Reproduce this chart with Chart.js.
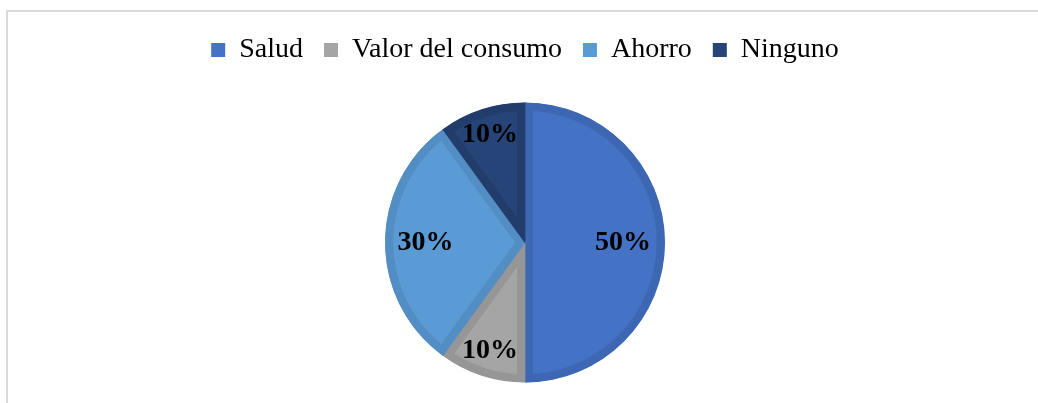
<!DOCTYPE html>
<html lang="es">
<head>
  <meta charset="UTF-8">
  <title>pie_motivo</title>
  <style>
    html, body {
      margin: 0;
      padding: 0;
      background: #ffffff;
      overflow: hidden;
    }

    .chart-box {
      position: absolute;
      left: 6px;
      top: 10px;
      width: 1034px;
      height: 403px;
      border-left: 2px solid #d9d9d9;
      border-top: 2px solid #d9d9d9;
    }
  </style>
  <script src="https://cdn.jsdelivr.net/npm/chart.js"></script>
</head>
<body>
  <div class="chart-box">
    <canvas id="myChart" width="1034" height="403"></canvas>
  </div>
  <script>
    // datos
    const categories = ['Salud', 'Valor del consumo', 'Ahorro', 'Ninguno'];
    const values = [50, 10, 30, 10];
    const fillColors = ['#4472C4', '#A5A5A5', '#5B9BD5', '#264478'];
    const edgeColors = ['#3E67B3', '#969696', '#528DC3', '#223D6C'];

    // etiquetas de porcentaje dentro de cada sector
    const pctLabels = {
      id: 'pctLabels',
      afterDatasetsDraw(chart, args, opts) {
        const ctx = chart.ctx;
        const meta = chart.getDatasetMeta(0);
        const total = values.reduce((a, b) => a + b, 0);
        ctx.save();
        ctx.font = 'bold 28px "Liberation Serif", "Times New Roman", serif';
        ctx.fillStyle = '#000000';
        ctx.textAlign = 'center';
        ctx.textBaseline = 'middle';
        meta.data.forEach((arc, i) => {
          const mid = (arc.startAngle + arc.endAngle) / 2;
          const frac = opts.radial[i];
          const x = arc.x + Math.cos(mid) * arc.outerRadius * frac;
          const y = arc.y + Math.sin(mid) * arc.outerRadius * frac;
          const pct = Math.round(values[i] / total * 100) + '%';
          ctx.fillText(pct, x, y);
        });
        ctx.restore();
      }
    };

    new Chart(document.getElementById('myChart').getContext('2d'), {
      type: 'pie',
      data: {
        labels: categories,
        datasets: [{
          data: values,
          backgroundColor: fillColors,
          borderColor: edgeColors,
          borderWidth: 8,
          borderAlign: 'inner',
          radius: 140
        }]
      },
      options: {
        responsive: false,
        animation: false,
        layout: {
          padding: { top: 3, bottom: 4 }
        },
        plugins: {
          legend: {
            position: 'top',
            labels: {
              boxWidth: 14,
              boxHeight: 14,
              padding: 21,
              color: '#000000',
              font: { family: '"Liberation Serif", "Times New Roman", serif', size: 28 },
              generateLabels(chart) {
                // cuadros lisos, sin el borde del sector
                return Chart.overrides.pie.plugins.legend.labels.generateLabels(chart).map(item => {
                  item.lineWidth = 0;
                  item.strokeStyle = item.fillStyle;
                  return item;
                });
              }
            }
          },
          tooltip: { enabled: false },
          pctLabels: { radial: [0.70, 0.81, 0.71, 0.81] }
        }
      },
      plugins: [pctLabels]
    });
  </script>
</body>
</html>
